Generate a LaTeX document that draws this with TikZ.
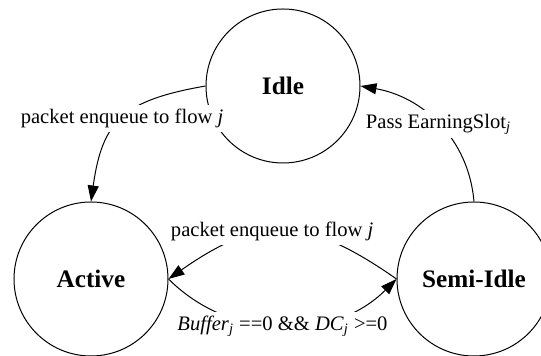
\documentclass[tikz,border=0pt]{standalone}
\usepackage{fontspec}
\setmainfont{Liberation Serif}
\usetikzlibrary{arrows.meta}

\tikzset{
  statenode/.style={draw, circle, minimum size=77pt, inner sep=0pt,
    font=\fontsize{12.6}{14}\selectfont\bfseries},
  edgelabel/.style={fill=white, inner sep=2pt, font=\fontsize{10.3}{12}\selectfont},
}

\begin{document}
\begin{tikzpicture}[x=0.5pt,y=0.5pt,line width=0.5pt,>={Triangle[length=8pt,width=5.5pt]}]
      \useasboundingbox (0,-356) rectangle (541,0);
      % states
      \node[statenode] (idle) at (283,-86) {Idle};
      \node[statenode] (active) at (91,-279) {Active};
      \node[statenode] (semi) at (474,-279) {Semi-Idle};
      % transitions
      \draw[->] (idle.west) to[out=190,in=82,looseness=1.3]
        node[edgelabel,pos=0.5] {packet enqueue to flow \textit{j}} (active.north);
      \draw[->] (semi.north) to[out=95,in=-10]
        node[edgelabel] {Pass EarningSlot\textsubscript{\textit{j}}} (idle.east);
      \draw[->] (semi.west) to[out=145,in=35,looseness=1.25]
        node[edgelabel,pos=0.55] {packet enqueue to flow \textit{j}} (active.east);
      \draw[->] (active.east) to[out=-45,in=-135]
        node[edgelabel] {\textit{Buffer}\textsubscript{\textit{j}} ==0 \&\& \textit{DC}\textsubscript{\textit{j}} >=0} (semi.west);
    \end{tikzpicture}
\end{document}
